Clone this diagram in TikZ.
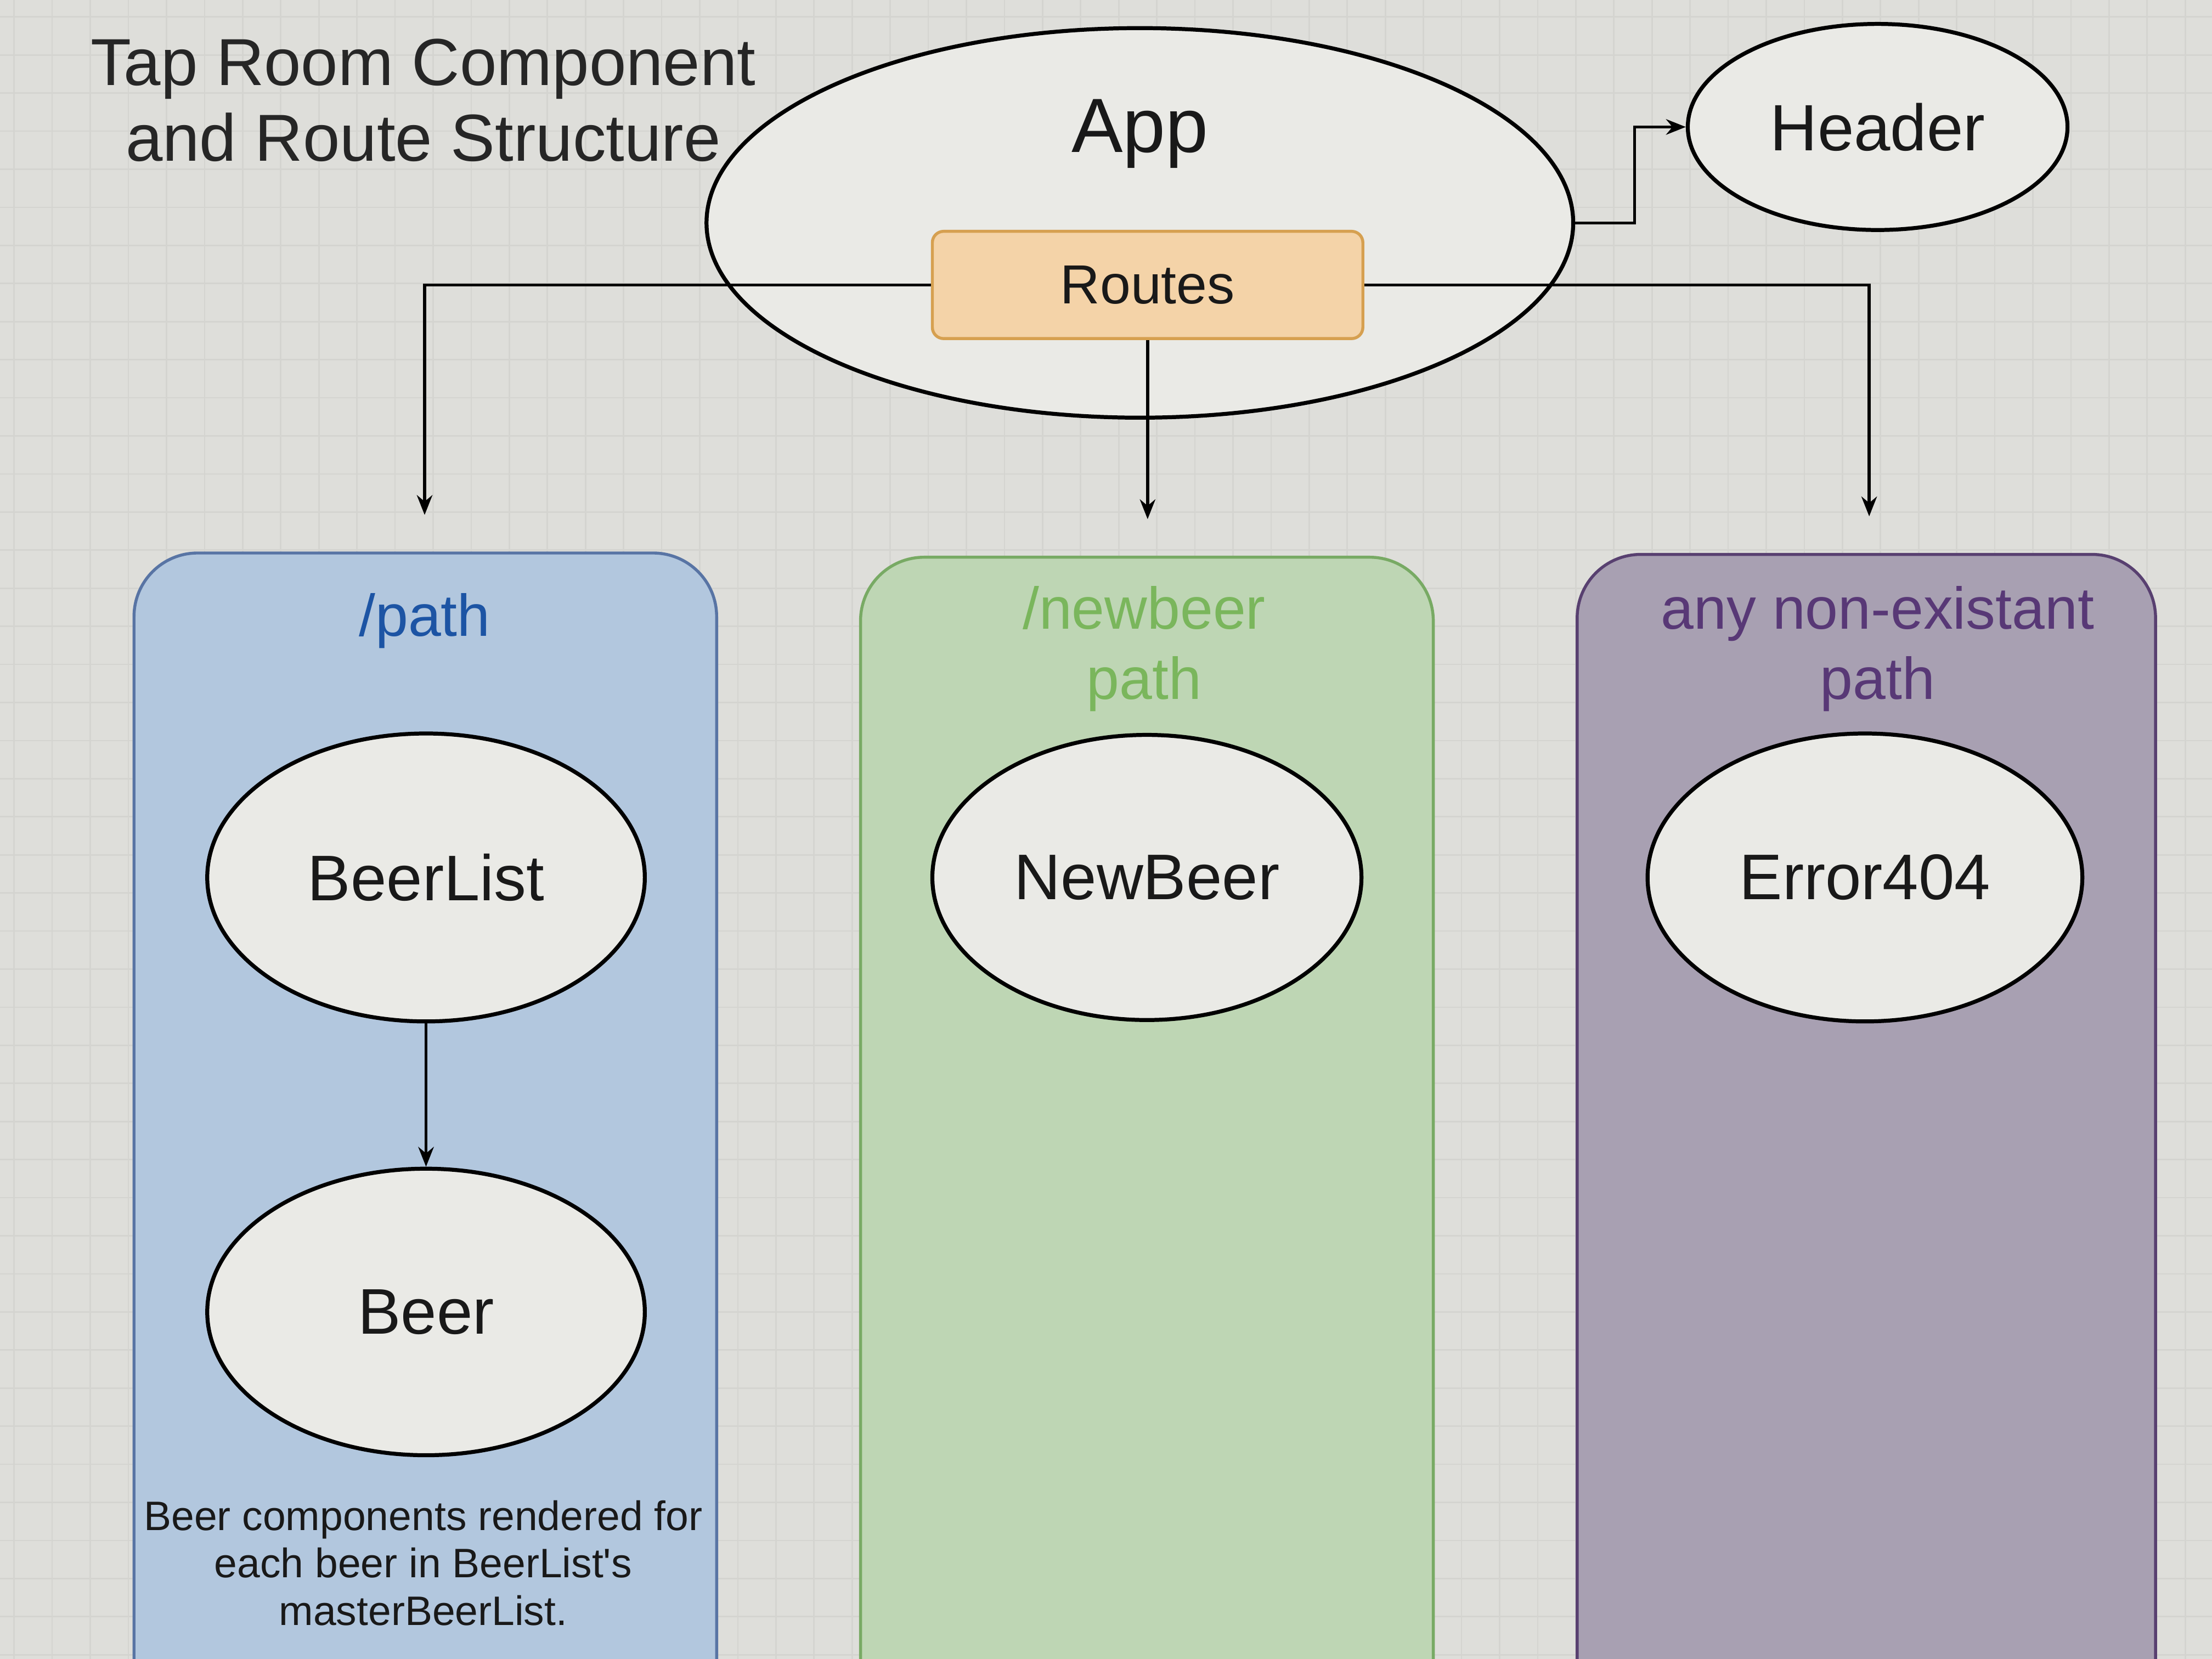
\documentclass[tikz,border=0pt]{standalone}
\usepackage{fontspec}
\setmainfont{Liberation Sans}
\usetikzlibrary{shapes.geometric,arrows.meta}
\definecolor{bgc}{RGB}{222,222,218}
\definecolor{gridc}{RGB}{212,212,208}
\definecolor{ellfill}{RGB}{234,234,230}
\definecolor{routefill}{RGB}{244,211,168}
\definecolor{routedraw}{RGB}{214,160,80}
\definecolor{bluefill}{RGB}{178,199,222}
\definecolor{bluedraw}{RGB}{88,116,164}
\definecolor{bluetext}{RGB}{28,84,164}
\definecolor{greenfill}{RGB}{190,214,180}
\definecolor{greendraw}{RGB}{120,170,100}
\definecolor{greentext}{RGB}{122,182,92}
\definecolor{purplefill}{RGB}{168,160,178}
\definecolor{purpledraw}{RGB}{88,64,112}
\definecolor{purpletext}{RGB}{88,56,118}
\tikzset{
  comp/.style={ellipse, draw=black, fill=ellfill, line width=0.8pt, inner sep=0pt, text=black!90},
  conn/.style={draw=black, line width=0.6pt, -{Stealth[length=1.4mm, width=1.1mm]}},
  panel/.style={line width=0.6pt, rounded corners=0.45cm},
}
\begin{document}
\begin{tikzpicture}[x=0.01cm, y=-0.01cm]
\useasboundingbox (0,0) rectangle (1568,1176);
\clip (0,0) rectangle (1568,1176);
\fill[bgc] (0,0) rectangle (1568,1176);
\foreach \i in {10,37,...,1568} \draw[gridc, line width=0.3pt] (\i,0) -- (\i,1176);
\foreach \j in {12,39,...,1176} \draw[gridc, line width=0.3pt] (0,\j) -- (1568,\j);

% panels
\draw[panel, fill=bluefill, draw=bluedraw] (95,1250) -- (95,392) -- (508,392) -- (508,1250);
\draw[panel, fill=greenfill, draw=greendraw] (610,1250) -- (610,395) -- (1016,395) -- (1016,1250);
\draw[panel, fill=purplefill, draw=purpledraw] (1118,1250) -- (1118,393) -- (1528,393) -- (1528,1250);

% title
\node[align=center, font=\fontsize{13.4}{15.2}\selectfont, text=black!85] (title) at (300,71) {Tap Room Component\\and Route Structure};

% App
\node[comp, minimum width=6.14cm, minimum height=2.76cm] (app) at (808,158) {};
\node[font=\fontsize{15.5}{18}\selectfont, text=black!90] (applbl) at (808,95) {App};
\node[draw=routedraw, fill=routefill, rounded corners=0.08cm, line width=0.6pt,
      minimum width=3.05cm, minimum height=0.76cm, inner sep=0pt,
      font=\fontsize{11.1}{13}\selectfont, text=black!90] (routes) at (813.5,202) {Routes};
\node[comp, minimum width=2.69cm, minimum height=1.46cm, font=\fontsize{13.2}{15}\selectfont] (header) at (1331,90) {Header};

% panel labels
\node[font=\fontsize{11.9}{14}\selectfont, text=bluetext] (lblpath) at (301,440) {/path};
\node[align=center, font=\fontsize{11.9}{14.2}\selectfont, text=greentext] (lblnew) at (811,460) {/newbeer\\path};
\node[align=center, font=\fontsize{11.9}{14.2}\selectfont, text=purpletext] (lblany) at (1331,460) {any non-existant\\path};

% components
\node[comp, minimum width=3.10cm, minimum height=2.04cm, font=\fontsize{13}{15}\selectfont] (beerlist) at (302,622) {BeerList};
\node[comp, minimum width=3.10cm, minimum height=2.03cm, font=\fontsize{13}{15}\selectfont] (beer) at (302,930) {Beer};
\node[comp, minimum width=3.04cm, minimum height=2.02cm, font=\fontsize{13}{15}\selectfont] (newbeer) at (813,622) {NewBeer};
\node[comp, minimum width=3.08cm, minimum height=2.04cm, font=\fontsize{13}{15}\selectfont] (error) at (1322,622) {Error404};

\node[align=center, font=\fontsize{8.3}{9.6}\selectfont, text=black!90] (note) at (300,1108) {Beer components rendered for\\each beer in BeerList\textquotesingle s\\masterBeerList.};

% connectors
\coordinate (t1) at (301,365);
\coordinate (t2) at (813.5,368);
\coordinate (t3) at (1325,366);
\draw[conn] (app.east) -- ++(42,0) |- (header.west);
\draw[conn] (routes.west) -| (t1);
\draw[conn] (routes.south) -- (t2);
\draw[conn] (routes.east) -| (t3);
\draw[conn] (beerlist.south) -- (beer.north);
\end{tikzpicture}
\end{document}
